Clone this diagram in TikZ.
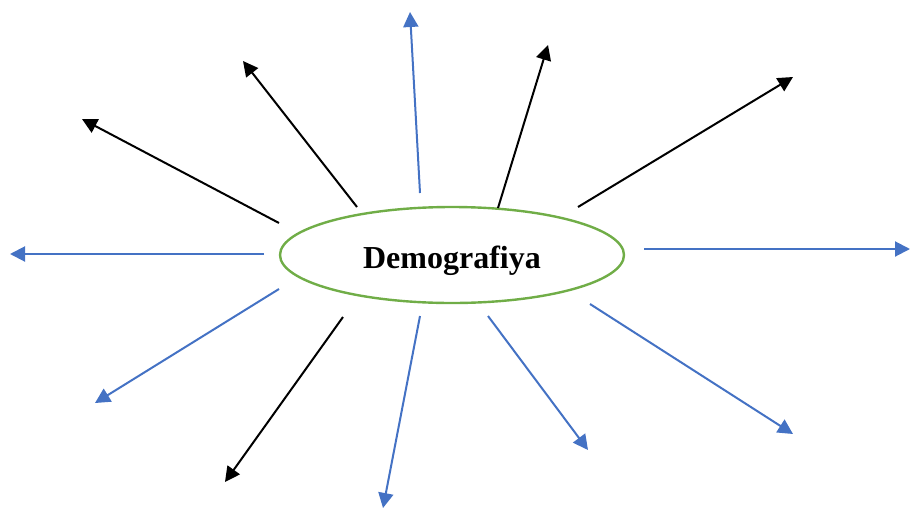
\documentclass[tikz,border=0pt]{standalone}
\usepackage{fontspec}
\setmainfont{Liberation Serif}
\usetikzlibrary{arrows.meta,shapes.geometric}
\definecolor{arrblue}{HTML}{4472C4}
\definecolor{ellgreen}{HTML}{70AD47}
\begin{document}
\begin{tikzpicture}[x=1pt,y=-1pt,
  arr/.style={line width=2pt,-{Triangle[length=15pt,width=15pt]}},
  blk/.style={arr,black},
  blu/.style={arr,arrblue},
  hub/.style={ellipse,draw=ellgreen,line width=2.4pt,minimum width=344pt,minimum height=96pt,inner sep=0pt,text height=26pt,text depth=0pt,font=\fontsize{32}{38}\selectfont\bfseries}]
\useasboundingbox (0,0) rectangle (910,509);
\node[hub] (d) at (452,255) {Demografiya};
% start points
\coordinate (s1) at (279,223);
\coordinate (s2) at (357,207);
\coordinate (s3) at (420,193);
\coordinate (s4) at (498,208);
\coordinate (s5) at (578,207);
\coordinate (s6) at (644,249);
\coordinate (s7) at (590,304);
\coordinate (s8) at (488,316);
\coordinate (s9) at (420,316);
\coordinate (s10) at (343,317);
\coordinate (s11) at (279,289);
\coordinate (s12) at (264,254);
% end points
\coordinate (e1) at (82,119);
\coordinate (e2) at (243,61);
\coordinate (e3) at (410,12);
\coordinate (e4) at (548,45);
\coordinate (e5) at (793,77);
\coordinate (e6) at (910,249);
\coordinate (e7) at (793,434);
\coordinate (e8) at (588,450);
\coordinate (e9) at (383,508);
\coordinate (e10) at (225,482);
\coordinate (e11) at (95,403);
\coordinate (e12) at (10,254);
\draw[blk] (s1) -- (e1);
\draw[blk] (s2) -- (e2);
\draw[blu] (s3) -- (e3);
\draw[blk] (s4) -- (e4);
\draw[blk] (s5) -- (e5);
\draw[blu] (s6) -- (e6);
\draw[blu] (s7) -- (e7);
\draw[blu] (s8) -- (e8);
\draw[blu] (s9) -- (e9);
\draw[blk] (s10) -- (e10);
\draw[blu] (s11) -- (e11);
\draw[blu] (s12) -- (e12);
\end{tikzpicture}
\end{document}
